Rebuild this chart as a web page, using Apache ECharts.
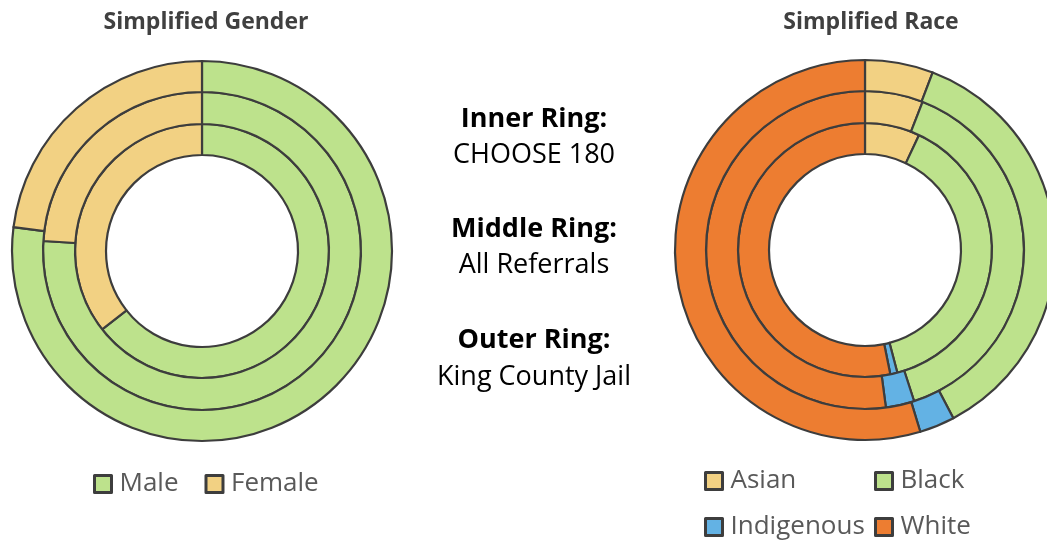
<!DOCTYPE html>
<html>
<head>
<meta charset="utf-8">
<script src="https://cdn.jsdelivr.net/npm/echarts@6/dist/echarts.min.js"></script>
<style>
  html, body { margin: 0; padding: 0; background: #fff; }
  #chart { width: 1047px; height: 543px; }
</style>
</head>
<body>
<div id="chart"></div>
<script>
// 数据
var genderNames = ['Male', 'Female']
var genderInner = [64.4, 35.6]   // CHOOSE 180
var genderMiddle = [76, 24]      // All Referrals
var genderOuter = [77, 23]       // King County Jail

var raceNames = ['Asian', 'Black', 'Indigenous', 'White']
var raceInner = [7.0, 38.9, 0.9, 53.2]
var raceMiddle = [5.9, 39.1, 2.9, 52.1]
var raceOuter = [5.8, 36.5, 3.0, 54.7]

var ringLabels = ['Inner Ring:', 'CHOOSE 180', 'Middle Ring:', 'All Referrals', 'Outer Ring:', 'King County Jail']

var genderColors = ['#bde28c', '#f2d183']
var raceColors = ['#f2d183', '#bde28c', '#63b2e4', '#ed7d31']

var font = 'Open Sans'
var edge = '#3d3d3d'

function ring (values, names, colors, center, radius) {
  return {
    type: 'pie',
    center: center,
    radius: radius,
    startAngle: 90,
    clockwise: true,
    silent: true,
    label: { show: false },
    labelLine: { show: false },
    itemStyle: { borderColor: edge, borderWidth: 2.2 },
    data: values.map(function (v, i) {
      return { name: names[i], value: v, itemStyle: { color: colors[i] } }
    })
  }
}

var gc = [202, 251]
var rc = [865, 250]
var rInner = [96, 127]
var rMiddle = [127, 159]
var rOuter = [159, 190]

// 文字中心线
var ringMid = [119, 155, 229, 265, 340, 377]
var titles = [
  { text: 'Simplified Gender', left: 201, top: 4, textAlign: 'center', textStyle: { fontFamily: font, fontWeight: 'bold', fontSize: 23, lineHeight: 26, color: '#404040' } },
  { text: 'Simplified Race', left: 866, top: 4, textAlign: 'center', textStyle: { fontFamily: font, fontWeight: 'bold', fontSize: 23, lineHeight: 26, color: '#404040' } }
]
ringLabels.forEach(function (t, i) {
  titles.push({
    text: t,
    left: 534,
    top: ringMid[i] - 15,
    padding: 0,
    textAlign: 'center',
    textStyle: { fontFamily: font, fontSize: 27, lineHeight: 30, fontWeight: i % 2 === 0 ? 'bold' : 'normal', color: '#000' }
  })
})

var legendBase = {
  icon: 'rect',
  itemWidth: 17,
  itemHeight: 17,
  padding: 0,
  selectedMode: false,
  itemStyle: { borderColor: edge, borderWidth: 3 },
  textStyle: { fontFamily: font, fontSize: 26, lineHeight: 30, color: '#595959', padding: [0, 0, 0, 3] }
}

var option = {
  animation: false,
  title: titles,
  legend: [
    Object.assign({}, legendBase, { data: genderNames, left: 93, top: 469, orient: 'horizontal', itemGap: 26 }),
    Object.assign({}, legendBase, { data: ['Asian', 'Indigenous'], left: 704, top: 466, orient: 'vertical', itemGap: 16 }),
    Object.assign({}, legendBase, { data: ['Black', 'White'], left: 874, top: 466, orient: 'vertical', itemGap: 16 })
  ],
  series: [
    ring(genderInner, genderNames, genderColors, gc, rInner),
    ring(genderMiddle, genderNames, genderColors, gc, rMiddle),
    ring(genderOuter, genderNames, genderColors, gc, rOuter),
    ring(raceInner, raceNames, raceColors, rc, rInner),
    ring(raceMiddle, raceNames, raceColors, rc, rMiddle),
    ring(raceOuter, raceNames, raceColors, rc, rOuter)
  ]
}

var myChart = echarts.init(document.getElementById('chart'))
myChart.setOption(option, true)
window.addEventListener('resize', function () {
  myChart.resize()
})
</script>
</body>
</html>
